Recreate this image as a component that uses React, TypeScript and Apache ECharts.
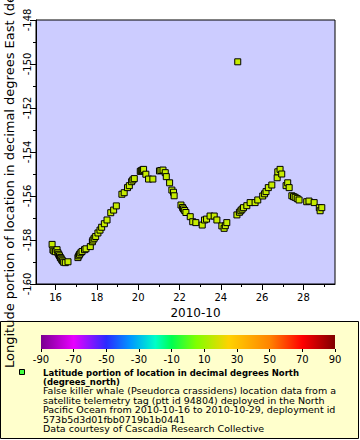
import React, { useEffect, useRef } from "react";
import * as echarts from "echarts";

// Time as fractional day of October 2010 (UTC)
const dayOfOct: number[] = [
  15.83, 15.87, 15.92, 15.99, 16.07, 16.11, 16.15, 16.19, 16.23, 16.26, 16.3, 16.34, 16.39, 16.47, 16.6,
  17.08, 17.12, 17.16, 17.22, 17.28, 17.4, 17.47, 17.68, 17.78, 17.81, 17.87, 17.94, 18.05, 18.15, 18.23,
  18.36, 18.49, 18.67, 18.81, 18.94, 19.21, 19.32, 19.48, 19.57, 19.68, 19.74, 19.81, 20.1, 20.15, 20.2,
  20.26, 20.37, 20.5, 20.71, 21.03, 21.1, 21.2, 21.31, 21.36, 21.52, 21.63, 21.71, 21.74, 22.07, 22.15,
  22.19, 22.25, 22.31, 22.52, 22.64, 22.79, 23.1, 23.21, 23.31, 23.48, 23.68, 23.81, 24.05, 24.16, 24.22,
  24.29, 24.78, 24.82, 24.9, 24.97, 25.03, 25.1, 25.26, 25.42, 25.66, 25.79, 26.03, 26.12, 26.19, 26.3,
  26.47, 26.73, 26.76, 26.87, 26.95, 27.16, 27.24, 27.31, 27.44, 27.52, 27.6, 27.7, 27.79, 28.16, 28.27,
  28.52, 28.77, 28.81, 28.89,
];
// Longitude in decimal degrees East
const lonEast: number[] = [
  -158.2, -158.45, -158.5, -158.53, -158.44, -158.58, -158.65, -158.72, -158.8, -158.83, -158.9, -158.95, -159.01, -159.03, -158.99,
  -158.8, -158.72, -158.65, -158.58, -158.52, -158.44, -158.4, -158.3, -158.08, -158.0, -157.92, -157.84, -157.68, -157.55, -157.42,
  -157.26, -157.09, -156.76, -156.64, -156.45, -155.92, -155.85, -155.62, -155.53, -155.35, -155.27, -155.21, -154.88, -154.85, -154.82,
  -154.79, -155.01, -155.23, -155.23, -154.86, -154.84, -154.82, -154.94, -155.12, -155.4, -155.73, -155.83, -155.99, -156.41, -156.52,
  -156.59, -156.66, -156.75, -156.94, -157.17, -157.21, -157.32, -157.09, -157.05, -156.91, -156.91, -157.09, -157.36, -157.47, -157.35,
  -157.21, -156.86, -149.9, -156.74, -156.67, -156.6, -156.53, -156.44, -156.3, -156.3, -156.18, -156.0, -155.9, -155.8, -155.62,
  -155.5, -155.17, -154.9, -154.79, -155.0, -155.53, -155.4, -155.62, -155.99, -156.03, -156.06, -156.12, -156.18, -156.26, -156.23,
  -156.3, -156.53, -156.67, -156.53,
];

const xMajorTicks = [16, 18, 20, 22, 24, 26, 28];
const xMinorTicks = [15, 17, 19, 21, 23, 25, 27, 29];
const xAxisTitle = "2010-10";
const yAxisTitle = "Longitude portion of location in decimal degrees East (degrees_east)";

const colorBarTicks = [-90, -70, -50, -30, -10, 10, 30, 50, 70, 90];
const colorBarStopValues = [-90, -70, -50, -35, -20, -10, 5, 25, 50, 70, 90];
const colorBarStopColors = [
  "#7a0090", "#e800ff", "#2a2aff", "#0099ff", "#00ffc8", "#00ff50", "#80ff00", "#ffd200", "#ff8400", "#ff0000", "#800000",
];

const legendTitle = "Latitude portion of location in decimal degrees North\n(degrees_north)";
const legendBody = [
  "False killer whale (Pseudorca crassidens) location data from a",
  "satellite telemetry tag (ptt id 94804) deployed in the North",
  "Pacific Ocean from 2010-10-16 to 2010-10-29, deployment id",
  "573b5d3d01fbb0719b1b0441",
  "Data courtesy of Cascadia Research Collective",
];

const FONT = "DejaVu Sans";

export default function App() {
  const ref = useRef<HTMLDivElement>(null);
  useEffect(() => {
    if (!ref.current) return;
    const chart = echarts.init(ref.current, null, { renderer: "svg" });
    const points = dayOfOct.map((d, i) => [d, lonEast[i]]);
    const cbLeft = 41;
    const cbWidth = 294;
    const option: any = {
      animation: false,
      backgroundColor: "#ffffff",
      grid: [
        {
          left: 36,
          top: 20,
          width: 299,
          height: 264,
          containLabel: false,
          outerBoundsMode: "none",
          show: true,
          backgroundColor: "#ccccff",
          borderColor: "#000",
          borderWidth: 1,
        },
        { left: cbLeft, top: 335, width: cbWidth, height: 14, containLabel: false, outerBoundsMode: "none", show: false },
      ],
      xAxis: [
        {
          type: "value",
          gridIndex: 0,
          min: 15.05,
          max: 29.53,
          position: "bottom",
          name: xAxisTitle,
          nameLocation: "middle",
          nameGap: 15,
          nameTextStyle: { fontFamily: FONT, fontSize: 12, color: "#000", padding: [0, 0, 0, 20] },
          axisLine: { show: true, lineStyle: { color: "#000", width: 1 } },
          axisTick: { show: true, customValues: xMajorTicks, length: 6, lineStyle: { color: "#000" } },
          axisLabel: { customValues: xMajorTicks, margin: 8, fontFamily: FONT, fontSize: 10, color: "#000" },
          splitLine: { show: false },
        },
        {
          type: "value",
          gridIndex: 0,
          min: 15.05,
          max: 29.53,
          position: "bottom",
          axisLine: { show: false },
          axisTick: { show: true, customValues: xMinorTicks, length: 3, lineStyle: { color: "#000" } },
          axisLabel: { show: false },
          splitLine: { show: false },
        },
        {
          type: "value",
          gridIndex: 1,
          min: -90,
          max: 90,
          position: "bottom",
          axisLine: { show: false },
          axisTick: { show: true, customValues: colorBarTicks, length: 3, lineStyle: { color: "#000" } },
          axisLabel: { customValues: colorBarTicks, margin: 5, fontFamily: FONT, fontSize: 10, color: "#000" },
          splitLine: { show: false },
        },
      ],
      yAxis: [
        {
          type: "value",
          gridIndex: 0,
          min: -160,
          max: -148,
          interval: 2,
          axisLine: { show: true, lineStyle: { color: "#000", width: 1 } },
          axisTick: { show: true, length: 6, lineStyle: { color: "#000" } },
          minorTick: { show: true, splitNumber: 2, length: 3, lineStyle: { color: "#000" } },
          axisLabel: { rotate: 90, margin: 4, fontFamily: FONT, fontSize: 10, color: "#000" },
          splitLine: { show: false },
        },
        {
          type: "value",
          gridIndex: 1,
          min: 0,
          max: 1,
          show: false,
        },
      ],
      series: [
        {
          type: "scatter",
          xAxisIndex: 0,
          yAxisIndex: 0,
          data: points,
          symbol: "rect",
          symbolSize: 6,
          itemStyle: { color: "#c6ec00", borderColor: "#000", borderWidth: 1, opacity: 1 },
        },
      ],
      graphic: [
        {
          type: "rect",
          z: -1,
          shape: { x: 0.5, y: 321.5, width: 358, height: 117 },
          style: { fill: "#ffffcc", stroke: "#000", lineWidth: 1 },
        },
        {
          type: "text",
          x: 9.5,
          y: 368,
          rotation: Math.PI / 2,
          z: 10,
          style: {
            text: yAxisTitle,
            fontFamily: FONT,
            fontSize: 13,
            fill: "#000",
            align: "left",
            verticalAlign: "middle",
          },
        },
        {
          type: "rect",
          shape: { x: cbLeft, y: 335, width: cbWidth, height: 14 },
          style: {
            fill: new echarts.graphic.LinearGradient(
              0, 0, 1, 0,
              colorBarStopValues.map((v, i) => ({ offset: (v + 90) / 180, color: colorBarStopColors[i] }))
            ),
          },
        },
        {
          type: "rect",
          shape: { x: 19.5, y: 369.5, width: 5, height: 5 },
          style: { fill: "#40ff40", stroke: "#000", lineWidth: 1 },
        },
        {
          type: "text",
          x: 43,
          y: 368.2,
          style: {
            text: legendTitle,
            fontFamily: FONT,
            fontSize: 8.5,
            fontWeight: "bold",
            lineHeight: 9,
            fill: "#000",
            align: "left",
            verticalAlign: "top",
          },
        },
        {
          type: "text",
          x: 43,
          y: 386,
          style: {
            text: legendBody.join("\n"),
            fontFamily: FONT,
            fontSize: 9.5,
            lineHeight: 9.5,
            fill: "#000",
            align: "left",
            verticalAlign: "top",
          },
        },
      ],
    };
    chart.setOption(option);
    return () => chart.dispose();
  }, []);
  return <div ref={ref} style={{ width: 360, height: 440, position: "absolute", left: 0, top: 0 }} />;
}
